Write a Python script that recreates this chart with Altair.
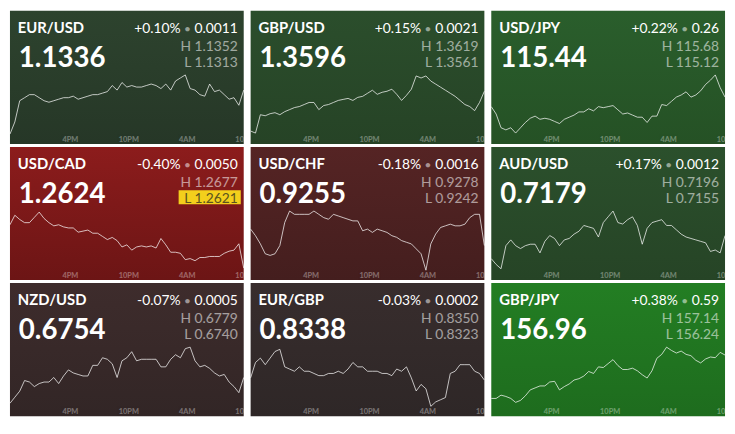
import altair as alt
import pandas as pd

# ---------------- data ----------------
pairs = ["EUR/USD", "GBP/USD", "USD/JPY", "USD/CAD", "USD/CHF", "AUD/USD", "NZD/USD", "EUR/GBP", "GBP/JPY"]
last_prices = ["1.1336", "1.3596", "115.44", "1.2624", "0.9255", "0.7179", "0.6754", "0.8338", "156.96"]
change_pct = ["+0.10%", "+0.15%", "+0.22%", "-0.40%", "-0.18%", "+0.17%", "-0.07%", "-0.03%", "+0.38%"]
change_abs = ["0.0011", "0.0021", "0.26", "0.0050", "0.0016", "0.0012", "0.0005", "0.0002", "0.59"]
highs = ["1.1352", "1.3619", "115.68", "1.2677", "0.9278", "0.7196", "0.6779", "0.8350", "157.14"]
lows = ["1.1313", "1.3561", "115.12", "1.2621", "0.9242", "0.7155", "0.6740", "0.8323", "156.24"]
low_highlight = [False, False, False, True, False, False, False, False, False]

# half-hourly closes from 10AM to 10AM
hours = [i * 0.5 for i in range(49)]
tick_hours = [6, 12, 18, 24]
tick_labels = ["4PM", "10PM", "4AM", "10AM"]

eurusd = [1.1313, 1.1321, 1.1335, 1.1337, 1.1339, 1.1339, 1.1337, 1.1335, 1.1334, 1.1335,
          1.1336, 1.1337, 1.1337, 1.1338, 1.1336, 1.1337, 1.1338, 1.1339, 1.1339, 1.1340,
          1.1341, 1.1345, 1.1342, 1.1347, 1.1344, 1.1345, 1.1344, 1.1344, 1.1345, 1.1346,
          1.1345, 1.1343, 1.1346, 1.1342, 1.1348, 1.1350, 1.1352, 1.1343, 1.1342, 1.1339,
          1.1338, 1.1346, 1.1341, 1.1342, 1.1339, 1.1336, 1.1337, 1.1332, 1.1342]
gbpusd = [1.3564, 1.3562, 1.3580, 1.3579, 1.3581, 1.3582, 1.3580, 1.3583, 1.3585, 1.3587,
          1.3588, 1.3590, 1.3592, 1.3592, 1.3585, 1.3589, 1.3590, 1.3592, 1.3594, 1.3595,
          1.3596, 1.3594, 1.3597, 1.3598, 1.3601, 1.3604, 1.3600, 1.3602, 1.3603, 1.3605,
          1.3600, 1.3594, 1.3599, 1.3605, 1.3618, 1.3616, 1.3618, 1.3613, 1.3610, 1.3607,
          1.3604, 1.3601, 1.3598, 1.3594, 1.3590, 1.3588, 1.3584, 1.3592, 1.3603]
usdjpy = [115.38, 115.31, 115.18, 115.16, 115.18, 115.13, 115.18, 115.23, 115.27, 115.29,
          115.26, 115.27, 115.26, 115.24, 115.22, 115.26, 115.28, 115.30, 115.33, 115.33,
          115.36, 115.34, 115.38, 115.37, 115.38, 115.39, 115.35, 115.31, 115.32, 115.30,
          115.28, 115.28, 115.23, 115.29, 115.29, 115.40, 115.39, 115.43, 115.47, 115.49,
          115.52, 115.47, 115.49, 115.53, 115.59, 115.63, 115.68, 115.56, 115.47]
usdcad = [1.2664, 1.2673, 1.2669, 1.2666, 1.2666, 1.2671, 1.2676, 1.2670, 1.2666, 1.2663,
          1.2664, 1.2662, 1.2661, 1.2661, 1.2657, 1.2658, 1.2659, 1.2656, 1.2656, 1.2653,
          1.2650, 1.2652, 1.2649, 1.2643, 1.2645, 1.2640, 1.2643, 1.2644, 1.2643, 1.2644,
          1.2642, 1.2651, 1.2645, 1.2638, 1.2638, 1.2637, 1.2631, 1.2632, 1.2630, 1.2633,
          1.2633, 1.2634, 1.2634, 1.2634, 1.2637, 1.2639, 1.2640, 1.2646, 1.2623]
usdchf = [0.9267, 0.9263, 0.9258, 0.9252, 0.9251, 0.9252, 0.9257, 0.9271, 0.9278, 0.9276,
          0.9276, 0.9276, 0.9276, 0.9278, 0.9276, 0.9274, 0.9273, 0.9276, 0.9275, 0.9274,
          0.9273, 0.9272, 0.9272, 0.9266, 0.9267, 0.9265, 0.9267, 0.9266, 0.9265, 0.9263,
          0.9262, 0.9260, 0.9259, 0.9258, 0.9255, 0.9252, 0.9242, 0.9258, 0.9264, 0.9268,
          0.9269, 0.9270, 0.9269, 0.9269, 0.9270, 0.9274, 0.9276, 0.9276, 0.9257]
audusd = [0.7163, 0.7159, 0.7156, 0.7172, 0.7176, 0.7172, 0.7170, 0.7172, 0.7173, 0.7173,
          0.7167, 0.7175, 0.7179, 0.7177, 0.7172, 0.7176, 0.7177, 0.7180, 0.7182, 0.7186,
          0.7185, 0.7184, 0.7178, 0.7188, 0.7192, 0.7196, 0.7188, 0.7187, 0.7190, 0.7192,
          0.7186, 0.7173, 0.7184, 0.7188, 0.7189, 0.7190, 0.7186, 0.7186, 0.7183, 0.7180,
          0.7178, 0.7177, 0.7176, 0.7175, 0.7174, 0.7168, 0.7169, 0.7167, 0.7179]
nzdusd = [0.6742, 0.6746, 0.6750, 0.6757, 0.6756, 0.6753, 0.6755, 0.6756, 0.6756, 0.6759,
          0.6755, 0.6760, 0.6764, 0.6762, 0.6761, 0.6760, 0.6760, 0.6767, 0.6767, 0.6772,
          0.6771, 0.6768, 0.6759, 0.6770, 0.6772, 0.6776, 0.6770, 0.6771, 0.6771, 0.6771,
          0.6771, 0.6766, 0.6766, 0.6771, 0.6774, 0.6772, 0.6778, 0.6779, 0.6770, 0.6766,
          0.6767, 0.6765, 0.6762, 0.6760, 0.6761, 0.6756, 0.6753, 0.6749, 0.6759]
eurgbp = [0.8336, 0.8343, 0.8345, 0.8342, 0.8345, 0.8348, 0.8349, 0.8341, 0.8340, 0.8339,
          0.8341, 0.8339, 0.8339, 0.8338, 0.8337, 0.8337, 0.8338, 0.8338, 0.8339, 0.8338,
          0.8340, 0.8343, 0.8341, 0.8341, 0.8339, 0.8339, 0.8339, 0.8338, 0.8338, 0.8337,
          0.8340, 0.8339, 0.8341, 0.8336, 0.8330, 0.8333, 0.8331, 0.8323, 0.8325, 0.8326,
          0.8327, 0.8338, 0.8339, 0.8342, 0.8342, 0.8342, 0.8339, 0.8338, 0.8335]
gbpjpy = [156.36, 156.36, 156.41, 156.39, 156.36, 156.30, 156.33, 156.40, 156.49, 156.52,
          156.55, 156.55, 156.61, 156.62, 156.49, 156.54, 156.58, 156.64, 156.66, 156.70,
          156.77, 156.74, 156.84, 156.83, 156.89, 156.95, 156.86, 156.80, 156.80, 156.82,
          156.78, 156.72, 156.67, 156.78, 156.97, 157.03, 157.14, 157.09, 157.05, 157.08,
          157.03, 157.01, 156.94, 156.90, 156.96, 156.99, 156.98, 157.06, 157.02]
series = [eurusd, gbpusd, usdjpy, usdcad, usdchf, audusd, nzdusd, eurgbp, gbpjpy]

bg_top = ["#2d432e", "#2b4e2c", "#2a5e2c", "#8c1c1c", "#552424", "#2b502c", "#3e2c2c", "#382d2d", "#237e23"]
bg_bottom = ["#263727", "#264326", "#255125", "#6c1515", "#441e1e", "#264426", "#322626", "#2e2727", "#1e6c1e"]

# ---------------- layout ----------------
W, H = 237, 135
FONT = "Lato"
RIGHT = 231
one = pd.DataFrame({"k": [0]})


def text_width(s, size):
    w = 0.0
    for ch in s:
        w += 0.25 if ch == "." else 0.58
    return w * size


def label(s, x, y, size, weight="normal", align="left", color="white", opacity=1.0):
    return alt.Chart(one).mark_text(
        text=s, font=FONT, fontSize=size, fontWeight=weight, align=align,
        baseline="alphabetic", color=color, opacity=opacity,
    ).encode(x=alt.value(x), y=alt.value(y))


def tile(i):
    df = pd.DataFrame({"t": hours, "price": series[i]})
    xenc = alt.X("t:Q", scale=alt.Scale(domain=[0, 24], nice=False, zero=False), axis=None)
    bg = alt.Chart(one).mark_rect(
        color=alt.LinearGradient(
            gradient="linear",
            stops=[alt.GradientStop(color=bg_top[i], offset=0), alt.GradientStop(color=bg_bottom[i], offset=1)],
            x1=0, x2=0, y1=0, y2=1,
        )
    ).encode(x=alt.value(0), x2=alt.value(W), y=alt.value(0), y2=alt.value(H))

    line = alt.Chart(df).mark_line(color="white", strokeWidth=1, opacity=0.72).encode(
        x=xenc,
        y=alt.Y("price:Q", axis=None,
                scale=alt.Scale(domain=[float(lows[i]), float(highs[i])], range=[125, 65], nice=False, zero=False)),
    )
    ticks = alt.Chart(pd.DataFrame({"t": tick_hours, "label": tick_labels})).mark_text(
        font=FONT, fontSize=7.5, fontWeight="bold", color="white", opacity=0.35, clip=True,
        baseline="alphabetic", dx=2
    ).encode(x=xenc, y=alt.value(133), text="label:N")

    w_abs = text_width(change_abs[i], 14)
    bullet_x = RIGHT - w_abs - 7
    layers = [bg, line, ticks,
              label(pairs[i], 8, 22, 15, weight="bold"),
              label(change_abs[i], RIGHT, 22, 14, align="right"),
              label("\u2022", bullet_x, 22, 12, align="center", opacity=0.5),
              label(change_pct[i], bullet_x - 7, 22, 14, align="right"),
              label(last_prices[i], 9, 57, 28, weight="bold"),
              label("H " + highs[i], RIGHT, 41, 14, align="right", opacity=0.55)]
    if low_highlight[i]:
        hl = alt.Chart(one).mark_rect(color="#f3cf1c").encode(
            x=alt.value(171), x2=alt.value(234), y=alt.value(44), y2=alt.value(58))
        layers += [hl, label("L " + lows[i], RIGHT, 57, 14, align="right", color="#5b531f")]
    else:
        layers += [label("L " + lows[i], RIGHT, 57, 14, align="right", opacity=0.55)]
    return alt.layer(*layers).properties(width=W, height=H)


rows = [alt.hconcat(*[tile(r * 3 + c) for c in range(3)], spacing=3) for r in range(3)]
chart = alt.vconcat(*rows, spacing=3).properties(padding=0, background="white").configure_view(strokeWidth=0)

chart.save("out.html", embed_options={"renderer": "svg", "actions": False})
